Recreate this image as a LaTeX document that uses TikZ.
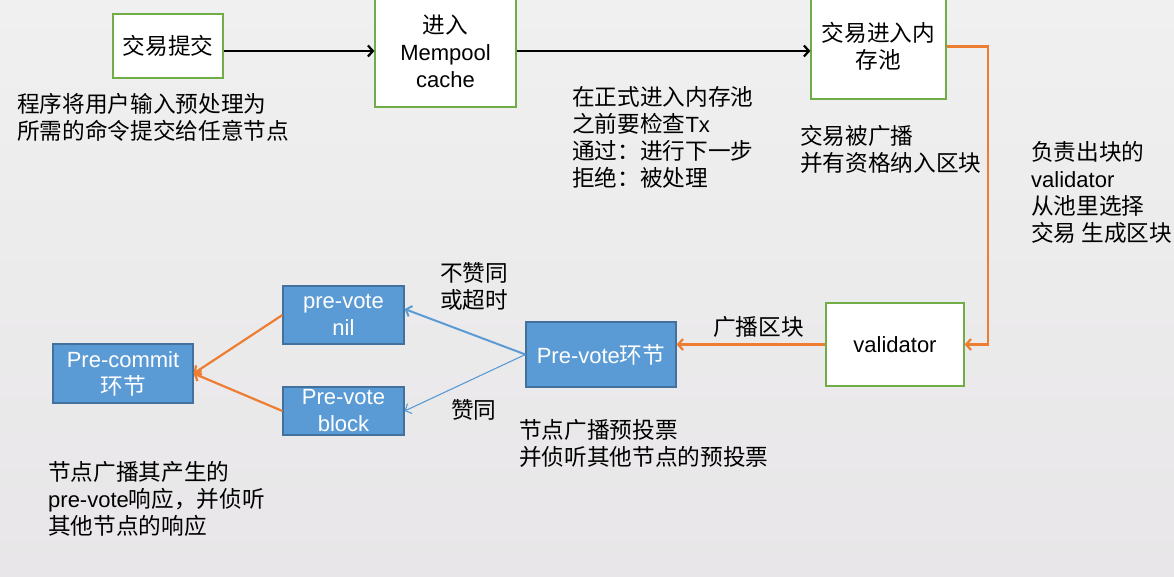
\documentclass[tikz,border=0pt]{standalone}
\usepackage{fontspec}
\setmainfont{Liberation Sans}
\newfontfamily\cjk[Scale=1.03]{Noto Sans CJK SC}
\usetikzlibrary{arrows.meta}
\definecolor{bgtop}{RGB}{240,240,240}
\definecolor{bgbot}{RGB}{232,230,232}
\definecolor{boxgreen}{RGB}{112,173,71}
\definecolor{orng}{RGB}{237,125,49}
\definecolor{bblue}{RGB}{91,155,213}
\definecolor{bbord}{RGB}{65,113,156}
\newcommand\zh[1]{{\cjk #1}}
\tikzset{
  fnt/.style={font=\fontsize{22}{27}\selectfont},
  greenbox/.style={fnt, draw=boxgreen, fill=white, line width=1.2pt, align=center, inner sep=0pt},
  bluebox/.style={fnt, draw=bbord, fill=bblue, line width=1.2pt, text=white, align=center, inner sep=0pt},
  txt/.style={fnt, align=left, anchor=base west, inner sep=0pt},
  tip/.style={-{Straight Barb[length=5pt,width=11pt]}},
  blk/.style={tip, line width=2.2pt, black},
  org/.style={tip, line width=2.2pt, orng},
  blu/.style={tip, line width=2pt, bblue},
  bluthin/.style={tip, line width=1.1pt, bblue},
}
\begin{document}
\begin{tikzpicture}[x=1pt,y=-1pt]
\useasboundingbox (0,0) rectangle (1174,577);
\fill[top color=bgtop, bottom color=bgbot] (0,0) rectangle (1174,577);

% boxes
\node[greenbox, minimum width=110pt, minimum height=64pt] (A) at (168,46) {\zh{交易提交}};
\node[greenbox, minimum width=141pt, minimum height=112pt] (B) at (445.5,51) {\zh{进入}\\Mempool\\cache};
\node[greenbox, minimum width=135pt, minimum height=105pt] (C) at (878.5,46.5) {\zh{交易进入内}\\\zh{存池}};
\node[greenbox, minimum width=138pt, minimum height=83pt] (D) at (895,344.5) {validator};
\node[bluebox, minimum width=150pt, minimum height=65pt] (E) at (601,354.5) {Pre-vote\zh{环节}};
\node[bluebox, minimum width=121pt, minimum height=58pt] (F) at (343.5,315) {pre-vote\\nil};
\node[bluebox, minimum width=121pt, minimum height=48pt] (G) at (343.5,411) {Pre-vote\\block};
\node[bluebox, minimum width=140pt, minimum height=59pt] (H) at (123,373.5) {Pre-commit\\\zh{环节}};

% text (anchor = baseline of last line)
\node[txt] (t1) at (17,140) {\zh{程序将用户输入预处理为}\\\zh{所需的命令提交给任意节点}};
\node[txt] (t2) at (572,187) {\zh{在正式进入内存池}\\\zh{之前要检查}Tx\\\zh{通过：进行下一步}\\\zh{拒绝：被处理}};
\node[txt] (t3) at (800,172) {\zh{交易被广播}\\\zh{并有资格纳入区块}};
\node[txt] (t4) at (1031,241) {\zh{负责出块的}\\validator\\\zh{从池里选择}\\\zh{交易 生成区块}};
\node[txt] (t5) at (440,308) {\zh{不赞同}\\\zh{或超时}};
\node[txt] (t6) at (451,418) {\zh{赞同}};
\node[txt] (t7) at (713,335) {\zh{广播区块}};
\node[txt] (t8) at (519,465) {\zh{节点广播预投票}\\\zh{并侦听其他节点的预投票}};
\node[txt] (t9) at (48,534) {\zh{节点广播其产生的}\\pre-vote\zh{响应，并侦听}\\\zh{其他节点的响应}};

% connectors
\draw[blk] (A.east |- B.west) -- (B.west);
\draw[blk] (B.east) -- (B.east -| C.west);
\draw[org] (C.east) -- ++(41,0) |- (D.east);
\draw[org] (D.west) -- (D.west -| E.east);
\draw[blu] (E.west) -- ([yshift=6pt]F.east);
\draw[bluthin] (E.west) -- (G.east);
\draw[org] (F.west) -- (H.east);
\draw[org] (G.west) -- (H.east);
\end{tikzpicture}
\end{document}
